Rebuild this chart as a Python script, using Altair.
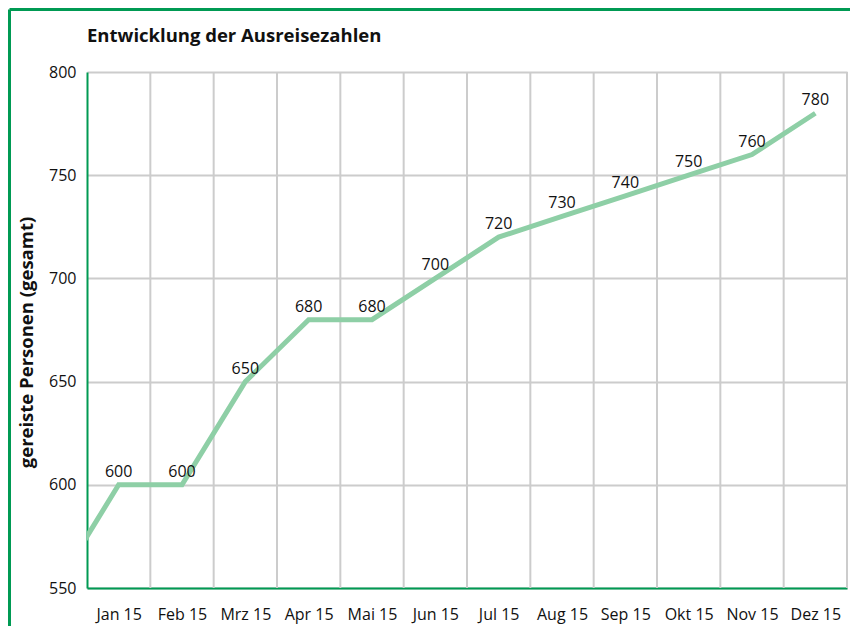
import altair as alt
import pandas as pd

# data
months = ["Dez 14", "Jan 15", "Feb 15", "Mrz 15", "Apr 15", "Mai 15", "Jun 15",
          "Jul 15", "Aug 15", "Sep 15", "Okt 15", "Nov 15", "Dez 15"]
values = [550, 600, 600, 650, 680, 680, 700, 720, 730, 740, 750, 760, 780]
show_label = [False] + [True] * 12
y_ticks = [550, 600, 650, 700, 750, 800]
title_text = "Entwicklung der Ausreisezahlen"
y_title = "gereiste Personen (gesamt)"

GREEN = "#009a53"
LINE = "#8ecfa6"
GRID = "#cccccc"
FONT = "Open Sans"
TXT = "#111111"

df = pd.DataFrame({"month": months, "value": values, "show": show_label})
df["pos"] = [i - 0.5 for i in range(len(months))]
label_months = months[1:]
label_expr = "[" + ",".join(f"'{m}'" for m in label_months) + "][floor(datum.value)]"

W, H = 760, 516
x_scale = alt.Scale(domain=[0, 12], nice=False, zero=False)
y_scale = alt.Scale(domain=[550, 800], nice=False, zero=False)

x_axis = alt.Axis(values=[i + 0.5 for i in range(12)], labelExpr=label_expr,
                  grid=False, ticks=False, domainColor=GREEN, domainWidth=2,
                  labelPadding=18, labelFontSize=16, labelColor=TXT,
                  labelFont=FONT, title=None)
y_axis = alt.Axis(values=y_ticks, grid=True, gridColor=GRID, gridWidth=2,
                  ticks=False, domainColor=GREEN, domainWidth=2,
                  labelPadding=11, labelFontSize=16, labelColor=TXT,
                  labelFont=FONT, title=y_title,
                  titleFont=FONT, titleFontSize=18.5, titleFontWeight="bold",
                  titleColor=TXT, titlePadding=12, titleY=H / 2 + 12)

grid_df = pd.DataFrame({"g": list(range(1, 13))})
vgrid = alt.Chart(grid_df).mark_rule(color=GRID, strokeWidth=2).encode(
    x=alt.X("g:Q", scale=x_scale, axis=x_axis)
)

base = alt.Chart(df)
line = base.mark_line(color=LINE, strokeWidth=5, clip=True, strokeJoin="miter").encode(
    x=alt.X("pos:Q", scale=x_scale, axis=x_axis),
    y=alt.Y("value:Q", scale=y_scale, axis=y_axis),
)
labels = base.transform_filter("datum.show").mark_text(
    dy=-8, baseline="alphabetic", fontSize=16, font=FONT, color=TXT
).encode(
    x=alt.X("pos:Q", scale=x_scale),
    y=alt.Y("value:Q", scale=y_scale),
    text=alt.Text("value:Q"),
)

title_mark = alt.Chart(grid_df).transform_filter("datum.g == 1").mark_text(
    align="left", baseline="alphabetic", fontSize=18.5, fontWeight="bold",
    font=FONT, color=TXT
).encode(x=alt.value(0), y=alt.value(-30), text=alt.value(title_text))

frame_left = alt.Chart(grid_df).transform_filter("datum.g == 1").mark_rule(
    color=GREEN, strokeWidth=3
).encode(x=alt.value(-77.5), y=alt.value(-62.5), y2=alt.value(H + 60))
frame_top = alt.Chart(grid_df).transform_filter("datum.g == 1").mark_rule(
    color=GREEN, strokeWidth=3
).encode(x=alt.value(-77.5), x2=alt.value(W + 20), y=alt.value(-62.5))

chart = alt.layer(vgrid, line, labels, title_mark, frame_left, frame_top).properties(
    width=W, height=H,
    autosize=alt.AutoSizeParams(type="none"),
    padding={"left": 79, "top": 64, "right": 3, "bottom": 38},
).configure_view(stroke=None)

chart.save("out.html", embed_options={"renderer": "svg", "actions": False})
